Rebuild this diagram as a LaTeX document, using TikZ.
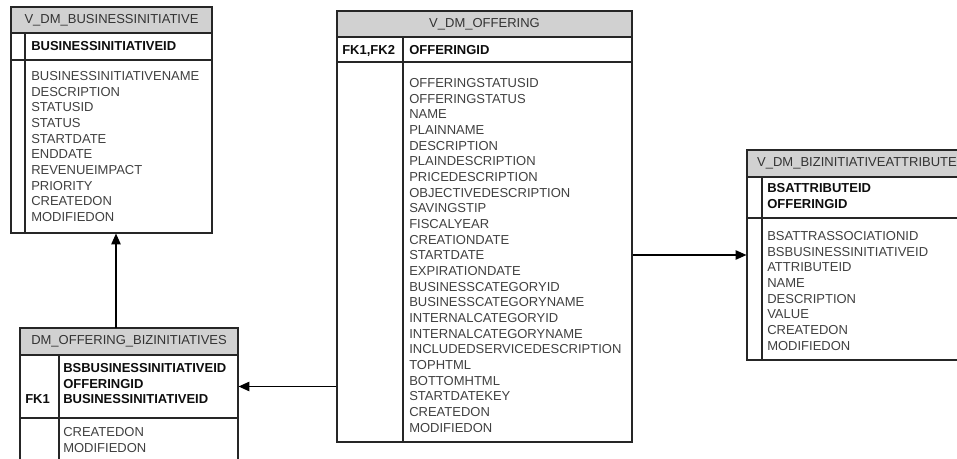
\documentclass[tikz,border=0pt]{standalone}
\usepackage{fontspec}
\setmainfont{Liberation Sans}
\usetikzlibrary{arrows.meta,fit}

\begin{document}
\begin{tikzpicture}[
        x=0.75pt, y=-0.75pt,
        every node/.style={inner sep=0pt, font=\fontsize{9.75}{11.74}\selectfont},
        tbl/.style={draw=black!85, line width=0.9pt, inner sep=0pt},
        hdr/.style={tbl, fill=black!18},
        title/.style={text=black!80},
        cols/.style={anchor=north west, align=left, text=black!75},
        pk/.style={cols, text=black!95, font=\fontsize{9.75}{11.74}\selectfont\bfseries},
        fk/.style={-{Triangle[length=8pt, width=7pt]}, line width=0.9pt}
    ]
        % Khung hình
        \clip (0,0) rectangle (957,459);

        % Bảng V_DM_BUSINESSINITIATIVE
        \node [tbl, fit={(11,7) (212,233)}] (bi) {};
        \node [hdr, fit={(11,7) (212,33)}] (bi-h) {};
        \node [title] (bi-t) at (bi-h.center) {V\_DM\_BUSINESSINITIATIVE};
        \node [tbl, fit={(11,33) (212,60)}] (bi-k) {};
        \draw [tbl] (25,33) -- (25,233);
        \node [pk] (bi-pk) at (31,41.3) {BUSINESSINITIATIVEID};
        \node [cols] (bi-c) at (31,71.3) {BUSINESSINITIATIVENAME\\DESCRIPTION\\STATUSID\\STATUS\\STARTDATE\\ENDDATE\\REVENUEIMPACT\\PRIORITY\\CREATEDON\\MODIFIEDON};

        % Bảng V_DM_OFFERING
        \node [tbl, fit={(337,11) (632,442)}] (off) {};
        \node [hdr, fit={(337,11) (632,37)}] (off-h) {};
        \node [title] (off-t) at (off-h.center) {V\_DM\_OFFERING};
        \node [tbl, fit={(337,37) (632,62)}] (off-k) {};
        \draw [tbl] (403,37) -- (403,442);
        \node [pk] (off-fk) at (342,45.3) {FK1,FK2};
        \node [pk] (off-pk) at (409,45.3) {OFFERINGID};
        \node [cols] (off-c) at (409,78.3) {OFFERINGSTATUSID\\OFFERINGSTATUS\\NAME\\PLAINNAME\\DESCRIPTION\\PLAINDESCRIPTION\\PRICEDESCRIPTION\\OBJECTIVEDESCRIPTION\\SAVINGSTIP\\FISCALYEAR\\CREATIONDATE\\STARTDATE\\EXPIRATIONDATE\\BUSINESSCATEGORYID\\BUSINESSCATEGORYNAME\\INTERNALCATEGORYID\\INTERNALCATEGORYNAME\\INCLUDEDSERVICEDESCRIPTION\\TOPHTML\\BOTTOMHTML\\STARTDATEKEY\\CREATEDON\\MODIFIEDON};

        % Bảng V_DM_BIZINITIATIVEATTRIBUTE
        \node [tbl, fit={(747,150) (967,360)}] (attr) {};
        \node [hdr, fit={(747,150) (967,177)}] (attr-h) {};
        \node [title] (attr-t) at (attr-h.center) {V\_DM\_BIZINITIATIVEATTRIBUTE};
        \node [tbl, fit={(747,177) (967,218)}] (attr-k) {};
        \draw [tbl] (762,177) -- (762,360);
        \node [pk] (attr-pk) at (767,183.3) {BSATTRIBUTEID\\OFFERINGID};
        \node [cols] (attr-c) at (767,231.3) {BSATTRASSOCIATIONID\\BSBUSINESSINITIATIVEID\\ATTRIBUTEID\\NAME\\DESCRIPTION\\VALUE\\CREATEDON\\MODIFIEDON};

        % Bảng DM_OFFERING_BIZINITIATIVES
        \node [tbl, fit={(20,328) (238,475)}] (obi) {};
        \node [hdr, fit={(20,328) (238,355)}] (obi-h) {};
        \node [title] (obi-t) at (obi-h.center) {DM\_OFFERING\_BIZINITIATIVES};
        \node [tbl, fit={(20,355) (238,418)}] (obi-k) {};
        \draw [tbl] (59,355) -- (59,475);
        \node [pk] (obi-fk) at (25,394.3) {FK1};
        \node [pk] (obi-pk) at (63,363.3) {BSBUSINESSINITIATIVEID\\OFFERINGID\\BUSINESSINITIATIVEID};
        \node [cols] (obi-c) at (63,427.3) {CREATEDON\\MODIFIEDON};

        % Các liên kết khóa ngoại
        \coordinate (obi-up) at (116,328);
        \draw [fk] (obi-up) -- (obi-up |- bi.south);
        \draw [fk] (off.west |- obi-k.east) -- (obi-k.east);
        \draw [fk] (off.east |- attr.west) -- (attr.west);
    \end{tikzpicture}
\end{document}
